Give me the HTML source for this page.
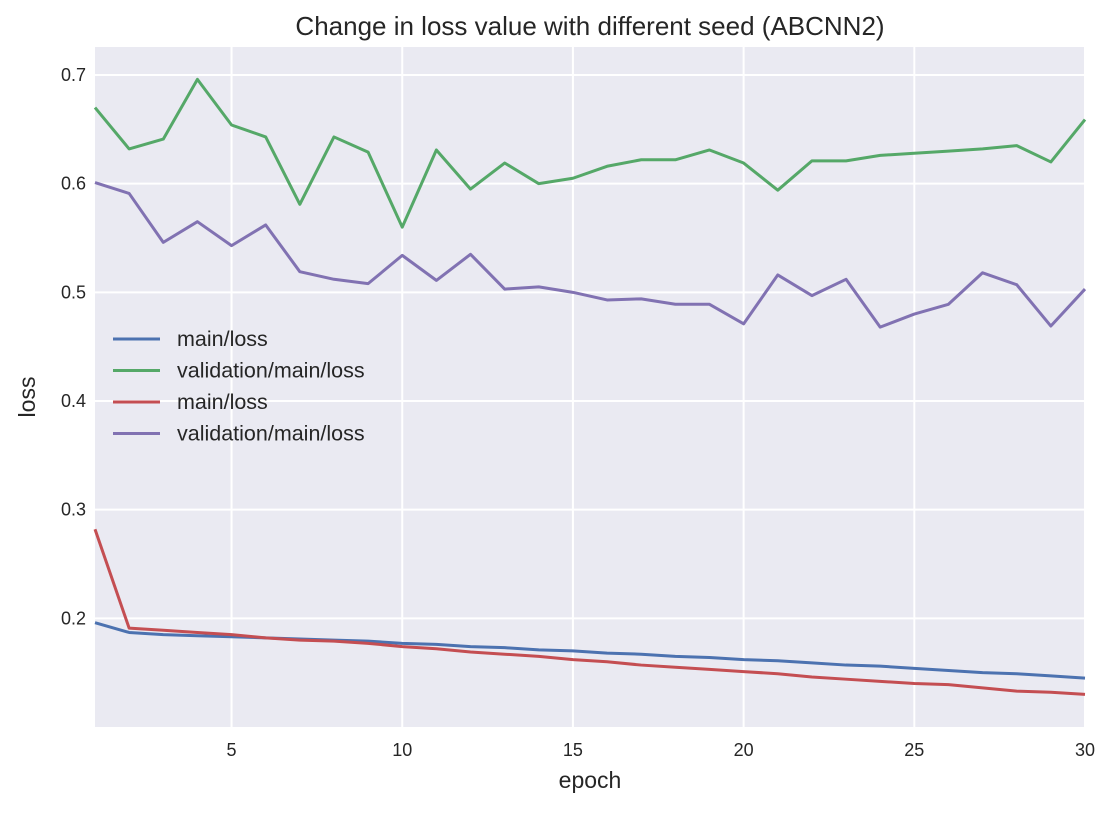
<!DOCTYPE html>
<html><head><meta charset="utf-8"><style>
body{margin:0;background:#fff;font-family:"Liberation Sans",sans-serif}
</style></head><body>
<svg id="c" width="1114" height="809" xmlns="http://www.w3.org/2000/svg"></svg>
<script>
const epochs=[1,2,3,4,5,6,7,8,9,10,11,12,13,14,15,16,17,18,19,20,21,22,23,24,25,26,27,28,29,30];
const trainA=[0.196,0.187,0.185,0.184,0.183,0.182,0.181,0.180,0.179,0.177,0.176,0.174,0.173,0.171,0.170,0.168,0.167,0.165,0.164,0.162,0.161,0.159,0.157,0.156,0.154,0.152,0.150,0.149,0.147,0.145];
const valA=[0.670,0.632,0.641,0.696,0.654,0.643,0.581,0.643,0.629,0.560,0.631,0.595,0.619,0.600,0.605,0.616,0.622,0.622,0.631,0.619,0.594,0.621,0.621,0.626,0.628,0.630,0.632,0.635,0.620,0.659];
const trainB=[0.282,0.191,0.189,0.187,0.185,0.182,0.180,0.179,0.177,0.174,0.172,0.169,0.167,0.165,0.162,0.160,0.157,0.155,0.153,0.151,0.149,0.146,0.144,0.142,0.140,0.139,0.136,0.133,0.132,0.130];
const valB=[0.601,0.591,0.546,0.565,0.543,0.562,0.519,0.512,0.508,0.534,0.511,0.535,0.503,0.505,0.500,0.493,0.494,0.489,0.489,0.471,0.516,0.497,0.512,0.468,0.480,0.489,0.518,0.507,0.469,0.503];
const xTicks=[5,10,15,20,25,30];
const yTicks=[0.2,0.3,0.4,0.5,0.6,0.7];
const seriesNames=["main/loss","validation/main/loss","main/loss","validation/main/loss"];
const colors=["#4c72b0","#55a868","#c44e52","#8172b2"];
const L=95,R=1085,T=47,B=727;
const X=v=>L+(v-1)/29*(R-L);
const Y=v=>B-(v-0.1)/0.6*(B-75);
const svg=document.getElementById('c');const NS="http://www.w3.org/2000/svg";
function mk(t,a,p){const e=document.createElementNS(NS,t);for(const k in a)e.setAttribute(k,a[k]);(p||svg).appendChild(e);return e;}
let bg=mk('rect',{x:L,y:T,width:R-L,height:B-T,fill:'#eaeaf2'});


xTicks.forEach(t=>{const g=mk('line',{x1:X(t),x2:X(t),y1:T,y2:B,stroke:'#fff','stroke-width':2});


const l=mk('text',{x:X(t),y:B+29,'text-anchor':'middle','font-size':18,fill:'#262626'});l.textContent=t;

});
yTicks.forEach(t=>{const g=mk('line',{x1:L,x2:R,y1:Y(t),y2:Y(t),stroke:'#fff','stroke-width':2});


const l=mk('text',{x:L-9,y:Y(t)+6,'text-anchor':'end','font-size':18,fill:'#262626'});l.textContent=t.toFixed(1);

});
[trainA,valA,trainB,valB].forEach((s,i)=>{const p=mk('polyline',{points:s.map((v,j)=>X(epochs[j])+','+Y(v)).join(' '),fill:'none',stroke:colors[i],'stroke-width':3,'stroke-linejoin':'round'});

});
seriesNames.forEach((n,i)=>{const y=339+i*31.5;
const ln=mk('line',{x1:113,x2:160,y1:y,y2:y,stroke:colors[i],'stroke-width':3});


const t=mk('text',{x:177,y:y+7,'font-size':21.5,fill:'#262626'});t.textContent=n;

});
const ti=mk('text',{x:(L+R)/2,y:35,'text-anchor':'middle','font-size':26,fill:'#262626'});ti.textContent='Change in loss value with different seed (ABCNN2)';


const xl=mk('text',{x:(L+R)/2,y:788,'text-anchor':'middle','font-size':23,fill:'#262626'});xl.textContent='epoch';


const yl=mk('text',{x:0,y:0,'text-anchor':'middle','font-size':23,fill:'#262626',transform:'translate(35,397) rotate(-90)'});yl.textContent='loss';


</script>
</body></html>
